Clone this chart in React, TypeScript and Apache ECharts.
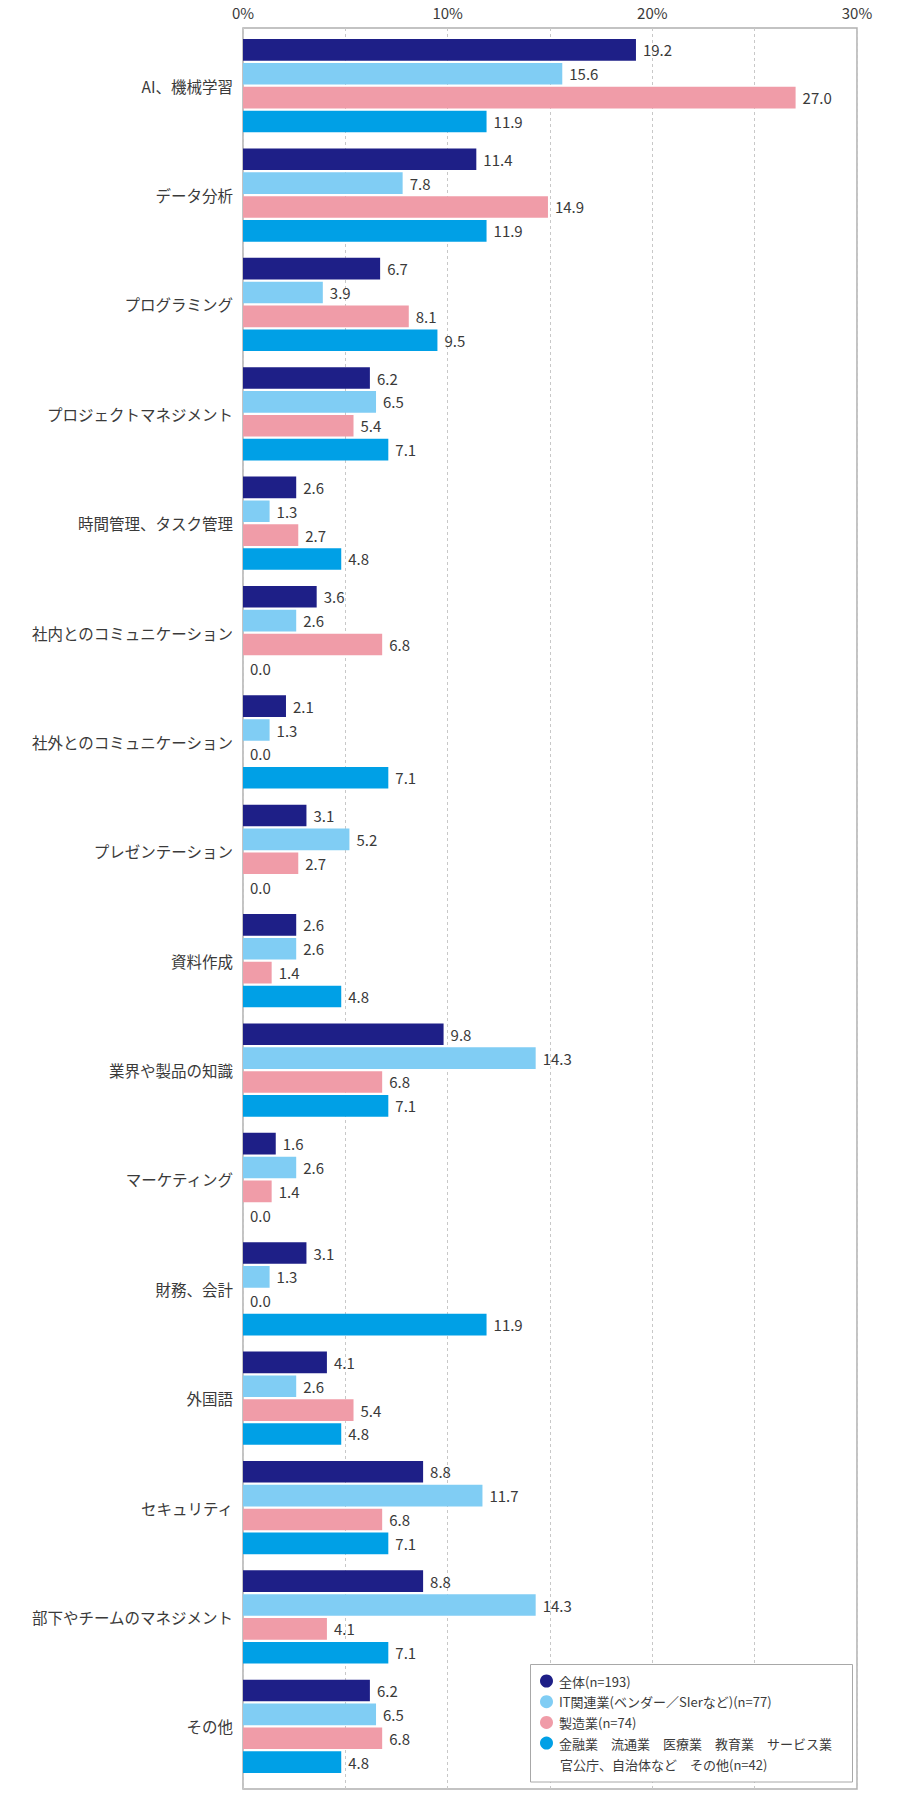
import { useEffect, useRef } from 'react';
import * as echarts from 'echarts';

const categories = [
  'AI、機械学習',
  'データ分析',
  'プログラミング',
  'プロジェクトマネジメント',
  '時間管理、タスク管理',
  '社内とのコミュニケーション',
  '社外とのコミュニケーション',
  'プレゼンテーション',
  '資料作成',
  '業界や製品の知識',
  'マーケティング',
  '財務、会計',
  '外国語',
  'セキュリティ',
  '部下やチームのマネジメント',
  'その他'
];

const seriesNames = [
  '全体(n=193)',
  'IT関連業(ベンダー／SIerなど)(n=77)',
  '製造業(n=74)',
  '金融業　流通業　医療業　教育業　サービス業\n官公庁、自治体など　その他(n=42)'
];

const seriesColors = ['#1e1f87', '#80cdf4', '#f09ca8', '#00a0e6'];

const totalValues = [19.2, 11.4, 6.7, 6.2, 2.6, 3.6, 2.1, 3.1, 2.6, 9.8, 1.6, 3.1, 4.1, 8.8, 8.8, 6.2];
const itValues = [15.6, 7.8, 3.9, 6.5, 1.3, 2.6, 1.3, 5.2, 2.6, 14.3, 2.6, 1.3, 2.6, 11.7, 14.3, 6.5];
const makerValues = [27.0, 14.9, 8.1, 5.4, 2.7, 6.8, 0.0, 2.7, 1.4, 6.8, 1.4, 0.0, 5.4, 6.8, 4.1, 6.8];
const otherValues = [11.9, 11.9, 9.5, 7.1, 4.8, 0.0, 7.1, 0.0, 4.8, 7.1, 0.0, 11.9, 4.8, 7.1, 7.1, 4.8];

const xTicks = [0, 10, 20, 30];

const FONT = '"Noto Sans CJK JP", "Noto Sans", sans-serif';

const App = () => {
  const chartRef = useRef<HTMLDivElement>(null);

  useEffect(() => {
    if (!chartRef.current) return;
    document.body.style.margin = '0';

    const chart = echarts.init(chartRef.current, undefined, { renderer: 'svg' });

    const values = [totalValues, itValues, makerValues, otherValues];

    const option: echarts.EChartsOption = {
      animation: false,
      textStyle: { fontFamily: FONT },
      grid: [
        // 枠と目盛り用
        { left: 243, right: 43, top: 28, bottom: 11, show: true, borderColor: '#b0b0b0', borderWidth: 1.5, backgroundColor: 'transparent' },
        // バー用
        { left: 243, right: 43, top: 31, bottom: 19 }
      ],
      xAxis: [
        {
          gridIndex: 0,
          type: 'value',
          position: 'top',
          min: 0,
          max: 30,
          interval: 5,
          axisLine: { show: false },
          axisTick: { show: false },
          axisLabel: {
            margin: 8,
            color: '#3a3a3a',
            fontSize: 15,
            fontFamily: FONT,
            formatter: (v: number) => (xTicks.includes(v) ? `${v}%` : '')
          },
          splitLine: { show: true, lineStyle: { color: '#c8c8c8', type: [3, 3], width: 1 } }
        },
        {
          gridIndex: 1,
          type: 'value',
          min: 0,
          max: 30,
          show: false
        }
      ],
      yAxis: [
        { gridIndex: 0, type: 'value', show: false },
        {
          gridIndex: 1,
          type: 'category',
          inverse: true,
          data: categories,
          axisLine: { show: false },
          axisTick: { show: false },
          splitLine: { show: false },
          axisLabel: {
            margin: 10,
            color: '#3a3a3a',
            fontSize: 15.5,
            fontFamily: FONT
          }
        }
      ],
      legend: {
        orient: 'vertical',
        left: 540,
        top: 1674.5,
        padding: 0,
        itemWidth: 15,
        itemHeight: 13,
        itemGap: 7.7,
        icon: 'circle',
        data: seriesNames,
        formatter: (name: string) => name.split('\n')[0],
        textStyle: { color: '#3a3a3a', fontSize: 13, lineHeight: 13, fontFamily: FONT }
      },
      graphic: [
        {
          type: 'rect',
          z: 3,
          shape: { x: 530.5, y: 1664.5, width: 322, height: 117.5 },
          style: { fill: '#fff', stroke: '#a8a8a8', lineWidth: 1 }
        },
        {
          type: 'text',
          z: 5,
          x: 560,
          y: 1764,
          style: {
            text: seriesNames[3].split('\n')[1],
            fill: '#3a3a3a',
            font: `13px ${FONT}`,
            verticalAlign: 'middle'
          }
        }
      ],
      series: seriesNames.map((name, i) => ({
        name,
        type: 'bar',
        xAxisIndex: 1,
        yAxisIndex: 1,
        data: values[i],
        barWidth: 21.7,
        barGap: '10%',
        itemStyle: { color: seriesColors[i] },
        label: {
          show: true,
          position: 'right',
          distance: 7,
          color: '#3a3a3a',
          fontSize: 15,
          fontFamily: FONT,
          formatter: (p: any) => Number(p.value).toFixed(1)
        }
      }))
    };

    chart.setOption(option);

    return () => {
      chart.dispose();
    };
  }, []);

  return <div ref={chartRef} style={{ width: 900, height: 1800 }} />;
};

export default App;
